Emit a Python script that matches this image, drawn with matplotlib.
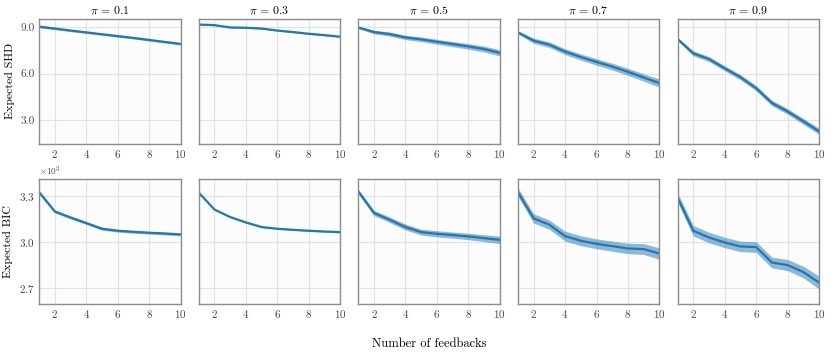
import numpy as np
import matplotlib
matplotlib.use("Agg")
import matplotlib.pyplot as plt
from matplotlib.ticker import FormatStrFormatter, ScalarFormatter

plt.rcParams.update({
    "font.family": "serif",
    "font.serif": ["cmr10", "DejaVu Serif"],
    "mathtext.fontset": "cm",
    "axes.unicode_minus": False,
    "axes.formatter.use_mathtext": True,
})

feedbacks = list(range(1, 11))
pis = ["0.1", "0.3", "0.5", "0.7", "0.9"]

shd_mean = [
    [9.05, 8.93, 8.80, 8.68, 8.56, 8.44, 8.32, 8.19, 8.06, 7.93],
    [9.19, 9.15, 9.00, 8.98, 8.93, 8.80, 8.70, 8.59, 8.50, 8.40],
    [9.00, 8.70, 8.57, 8.35, 8.23, 8.07, 7.92, 7.77, 7.60, 7.35],
    [8.68, 8.14, 7.88, 7.43, 7.08, 6.76, 6.46, 6.12, 5.75, 5.39],
    [8.25, 7.32, 6.95, 6.35, 5.77, 5.06, 4.10, 3.55, 2.91, 2.26],
]
shd_err = [
    [0.07, 0.07, 0.07, 0.07, 0.07, 0.07, 0.07, 0.07, 0.07, 0.07],
    [0.04, 0.04, 0.04, 0.04, 0.04, 0.04, 0.04, 0.04, 0.04, 0.04],
    [0.08, 0.12, 0.13, 0.14, 0.15, 0.16, 0.17, 0.18, 0.19, 0.20],
    [0.10, 0.17, 0.18, 0.19, 0.20, 0.21, 0.22, 0.23, 0.24, 0.26],
    [0.10, 0.16, 0.16, 0.16, 0.17, 0.17, 0.18, 0.18, 0.19, 0.20],
]
bic_mean = [
    [3324, 3198, 3159, 3123, 3086, 3073, 3066, 3060, 3055, 3049],
    [3321, 3211, 3162, 3127, 3097, 3086, 3079, 3073, 3068, 3064],
    [3328, 3188, 3144, 3097, 3064, 3053, 3045, 3036, 3025, 3014],
    [3324, 3153, 3112, 3038, 3008, 2988, 2973, 2958, 2954, 2925],
    [3289, 3073, 3029, 2997, 2971, 2967, 2867, 2850, 2805, 2737],
]
bic_err = [
    [9, 9, 9, 9, 9, 9, 9, 9, 9, 9],
    [4, 4, 4, 4, 4, 4, 4, 4, 4, 4],
    [14, 17, 18, 19, 19, 20, 20, 21, 22, 24],
    [28, 30, 30, 32, 32, 32, 33, 34, 35, 37],
    [30, 34, 34, 34, 34, 35, 35, 36, 38, 42],
]

color = "#1f77b4"
fig, axes = plt.subplots(2, 5, figsize=(8.31, 3.58), dpi=100)
fig.subplots_adjust(left=0.047, right=0.9856, top=0.947, bottom=0.151,
                    wspace=0.128, hspace=0.283)

x = np.array(feedbacks)
for row, (means, errs) in enumerate([(shd_mean, shd_err), (bic_mean, bic_err)]):
    for col in range(5):
        ax = axes[row, col]
        m = np.array(means[col], dtype=float)
        e = np.array(errs[col], dtype=float)
        ax.fill_between(x, m - e, m + e, color=color, alpha=0.5, lw=0)
        ax.plot(x, m, color=color, lw=1.6)
        ax.set_xlim(1, 10)
        ax.set_xticks([2, 4, 6, 8, 10])
        ax.set_facecolor("#fcfcfc")
        ax.grid(True, color="#e2e2e2", lw=0.8)
        ax.set_axisbelow(True)
        for s in ax.spines.values():
            s.set_color("#8c8c8c")
            s.set_linewidth(1.0)
        ax.tick_params(length=0, labelsize=8, colors="#444444", pad=3)
        if row == 0:
            ax.set_ylim(1.45, 9.55)
            ax.set_yticks([3.0, 6.0, 9.0])
            ax.yaxis.set_major_formatter(FormatStrFormatter("%.1f"))
            ax.set_title(r"$\pi$ = " + pis[col], fontsize=8.5, pad=4)
        else:
            ax.set_ylim(2598, 3408)
            ax.set_yticks([2700, 3000, 3300])
            fmt = ScalarFormatter(useMathText=True)
            fmt.set_powerlimits((0, 0))
            ax.yaxis.set_major_formatter(fmt)
            ax.yaxis.get_offset_text().set_fontsize(6.5)
            ax.yaxis.get_offset_text().set_color("#444444")
        if col != 0:
            ax.tick_params(labelleft=False)
            if row == 1:
                ax.yaxis.get_offset_text().set_visible(False)

axes[0, 0].set_ylabel("Expected SHD", fontsize=8.5)
axes[1, 0].set_ylabel("Expected BIC", fontsize=8.5)
fig.text(0.517, 0.04, "Number of feedbacks", ha="center", va="center", fontsize=9)

fig.savefig("out.png", dpi=100)
